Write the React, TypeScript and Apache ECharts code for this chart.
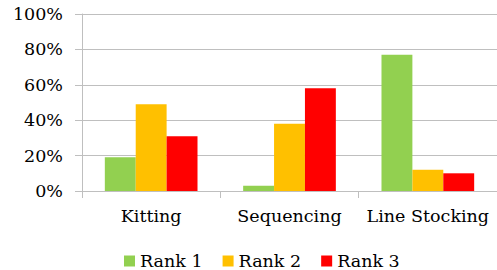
import React, { useEffect, useRef } from "react";
import * as echarts from "echarts";

const categories = ["Kitting", "Sequencing", "Line Stocking"];
const seriesNames = ["Rank 1", "Rank 2", "Rank 3"];
const rank1 = [19, 3, 77];
const rank2 = [49, 38, 12];
const rank3 = [31, 58, 10];
const colors = ["#92D050", "#FFC000", "#FF0000"];

const FONT = "DejaVu Serif";
const FS = 17.5;

export default function App() {
  const ref = useRef<HTMLDivElement>(null);
  useEffect(() => {
    if (!ref.current) return;
    const chart = echarts.init(ref.current, undefined, { renderer: "svg" });
    const data = [rank1, rank2, rank3];
    chart.setOption({
      animation: false,
      textStyle: { fontFamily: FONT },
      grid: { left: 82, right: 0, top: 14, bottom: 79, containLabel: false },
      legend: {
        data: seriesNames,
        left: 124,
        top: 252,
        padding: 0,
        itemWidth: 11,
        itemHeight: 11,
        itemGap: 20,
        icon: "rect",
        textStyle: { fontFamily: FONT, fontSize: FS, color: "#000", padding: [0, 0, 0, 0] },
      },
      xAxis: {
        type: "category",
        data: categories,
        axisLine: { show: true, lineStyle: { color: "#BFBFBF", width: 1 } },
        axisTick: { show: true, length: 7, lineStyle: { color: "#BFBFBF" } },
        axisLabel: { fontFamily: FONT, fontSize: FS, color: "#000", margin: 16, interval: 0 },
      },
      yAxis: {
        type: "value",
        min: 0,
        max: 100,
        interval: 20,
        axisLine: { show: true, lineStyle: { color: "#BFBFBF", width: 1 } },
        axisTick: { show: true, length: 7, lineStyle: { color: "#BFBFBF" } },
        splitLine: { show: true, lineStyle: { color: "#BFBFBF", width: 1 } },
        axisLabel: {
          fontFamily: FONT,
          fontSize: FS,
          color: "#000",
          margin: 19,
          padding: [3, 0, 0, 0],
          formatter: (v: number) => v + "%",
        },
      },
      series: seriesNames.map((name, i) => ({
        name,
        type: "bar",
        data: data[i],
        barGap: "0%",
        barCategoryGap: "33%",
        itemStyle: { color: colors[i] },
      })),
    });
    return () => chart.dispose();
  }, []);
  return <div ref={ref} style={{ width: 497, height: 270, position: "absolute", left: 0, top: 0 }} />;
}
